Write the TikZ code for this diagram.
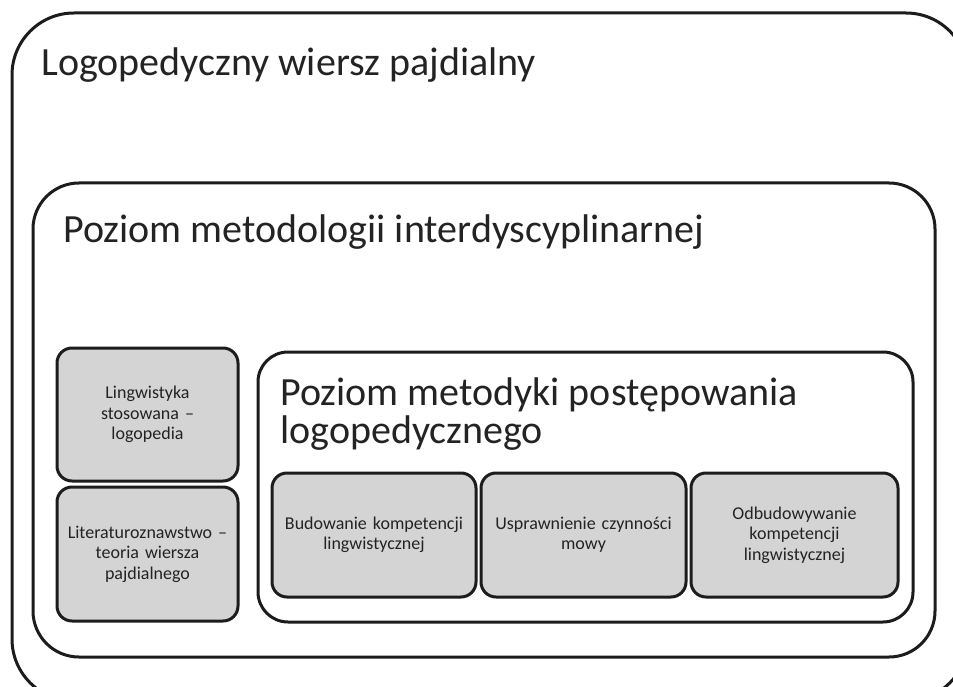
\documentclass[tikz,border=0pt]{standalone}
\usepackage{fontspec}
\setmainfont{Carlito}
\definecolor{boxgray}{RGB}{212,212,212}
\definecolor{edge}{RGB}{28,28,28}
\definecolor{txt}{RGB}{35,35,35}
\begin{document}
\begin{tikzpicture}[x=1pt,y=-1pt,
  frame/.style={draw=edge, line width=3pt, fill=white, inner sep=0pt, outer sep=0pt},
  graybox/.style={draw=edge, line width=3pt, fill=boxgray, rounded corners=15pt,
     inner sep=2pt, outer sep=0pt, align=center, text=txt,
     font=\fontsize{18}{20.5}\selectfont},
  bigtext/.style={anchor=base west, inner sep=0pt, text=txt, font=\fontsize{40}{40}\selectfont},
]
\useasboundingbox (0,0) rectangle (953,687);
\clip (0,0) rectangle (953,687);
\node[frame, rounded corners=62pt, minimum width=956pt, minimum height=688pt] (outer) at (490,357) {};
\node[frame, rounded corners=46pt, minimum width=902pt, minimum height=474pt] (middle) at (484,420) {};
\node[frame, rounded corners=30pt, minimum width=655pt, minimum height=270pt] (inner) at (585.5,487) {};

\node[bigtext] (t1) at (41,76) {Logopedyczny wiersz pajdialny};
\node[bigtext] (t2) at (63,242) {Poziom metodologii interdyscyplinarnej};
\node[bigtext, align=left, font=\fontsize{40}{38}\selectfont] (t3) at (280,443) {Poziom metodyki postępowania\\logopedycznego};

\node[graybox, minimum width=181pt, minimum height=133pt, text width=172pt] (g1) at (147.5,414.5) {Lingwistyka\\stosowana –\\logopedia};
\node[graybox, minimum width=181pt, minimum height=134pt, text width=175pt] (g2) at (147.5,554) {Literaturoznawstwo –\\teoria wiersza\\pajdialnego};

\node[graybox, minimum width=204pt, minimum height=124pt, text width=198pt] (b1) at (374,535) {Budowanie kompetencji\\lingwistycznej};
\node[graybox, minimum width=205pt, minimum height=124pt, text width=198pt] (b2) at (583.5,535) {Usprawnienie czynności\\mowy};
\node[graybox, minimum width=207pt, minimum height=124pt, text width=198pt] (b3) at (794.5,535) {Odbudowywanie\\kompetencji\\lingwistycznej};
\end{tikzpicture}
\end{document}
